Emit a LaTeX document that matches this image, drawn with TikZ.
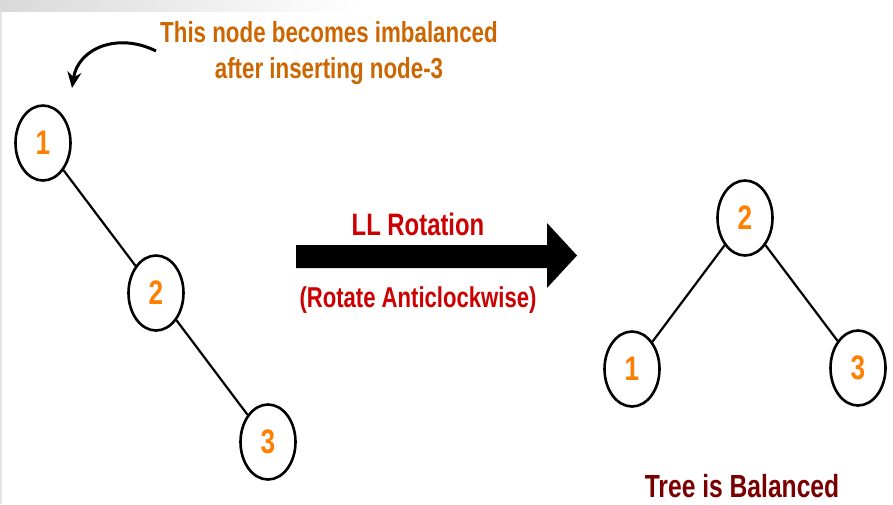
\documentclass[tikz,border=0pt]{standalone}
\usepackage{fontspec}
\usetikzlibrary{shapes.geometric,arrows.meta}
\newfontfamily\narrowsans[FakeStretch=0.77]{Liberation Sans}
\definecolor{notecol}{RGB}{204,102,0}
\definecolor{digitcol}{RGB}{255,128,0}
\definecolor{rotcol}{RGB}{204,0,0}
\definecolor{balcol}{RGB}{122,0,0}
\tikzset{
  treenode/.style={ellipse, draw=black, line width=2.6pt, fill=white,
    minimum width=55pt, minimum height=75pt, inner sep=0pt,
    text=digitcol, font=\narrowsans\bfseries\fontsize{34}{34}\selectfont},
  treeedge/.style={line width=2.2pt, black},
  caption/.style={inner sep=0pt, align=center}
}
\begin{document}
\begin{tikzpicture}[x=1pt,y=-1pt]
  % page frame
  \useasboundingbox (0,0) rectangle (893,504);
  \fill[white] (0,0) rectangle (893,504);
  \shade[left color=black!15, right color=white] (0,0) rectangle (360,11);
  \fill[black!10] (0,11) rectangle (1.5,504);

  % tree before the rotation
  \node[treenode] (a1) at (43,143) {1};
  \node[treenode] (a2) at (156,293) {2};
  \node[treenode] (a3) at (268,442) {3};
  \draw[treeedge] (a1) -- (a2);
  \draw[treeedge] (a2) -- (a3);

  % tree after the rotation
  \node[treenode] (b2) at (745,218) {2};
  \node[treenode] (b1) at (632,369) {1};
  \node[treenode] (b3) at (858,368) {3};
  \draw[treeedge] (b2) -- (b1);
  \draw[treeedge] (b2) -- (b3);

  % note on the unbalanced node
  \node[caption, text=notecol, font=\narrowsans\bfseries\fontsize{29}{36}\selectfont]
    (note) at (329,53) {This node becomes imbalanced\\after inserting node-3};
  \coordinate (ntail) at (156,51);
  \coordinate (ntip) at (72,88);
  \draw[line width=3pt, -{Stealth[length=16pt,width=14pt]}]
    (ntail) .. controls (118,32) and (78,48) .. (ntip);

  % rotation arrow
  \fill[black] (296,245) -- (547,245) -- (547,223) -- (577,255.5)
    -- (547,288) -- (547,268) -- (296,268) -- cycle;
  \node[caption, text=rotcol, font=\narrowsans\bfseries\fontsize{31}{31}\selectfont]
    (rot) at (418,224) {LL Rotation};
  \node[caption, text=rotcol, font=\narrowsans\bfseries\fontsize{28.7}{28.7}\selectfont]
    (dir) at (418,300) {(Rotate Anticlockwise)};

  % result caption
  \node[caption, text=balcol, font=\narrowsans\bfseries\fontsize{32}{32}\selectfont]
    (bal) at (742,486) {Tree is Balanced};
\end{tikzpicture}
\end{document}
